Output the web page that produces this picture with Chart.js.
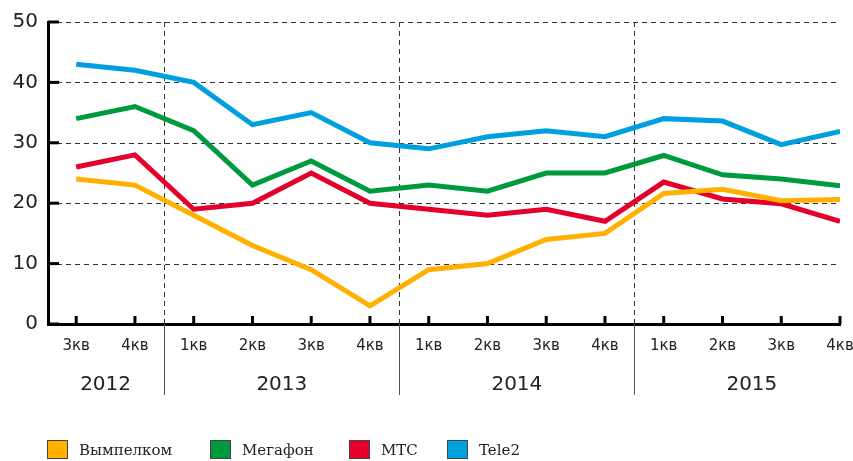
<!DOCTYPE html>
<html>
<head>
<meta charset="utf-8">
<script src="https://cdn.jsdelivr.net/npm/chart.js@4"></script>
<style>
  body { margin: 0; background: #fff; }
  #wrap { position: relative; width: 853px; height: 461px; }
  #legend { position: absolute; left: 0; top: 440px; width: 853px; height: 21px;
    font-family: "DejaVu Serif", serif; font-size: 15px; color: #222; }
  .item { position: absolute; top: 0; display: flex; align-items: center; }
  .box { width: 21px; height: 19px; border: 1px solid #444; margin-right: 11px; box-sizing: border-box; }
</style>
</head>
<body>
<div id="wrap">
  <canvas id="grafica" width="853" height="461"></canvas>
  <div id="legend"></div>
</div>
<script>
// Данные
const quarters = ['3кв', '4кв', '1кв', '2кв', '3кв', '4кв', '1кв', '2кв', '3кв', '4кв', '1кв', '2кв', '3кв', '4кв'];
const years = ['2012', '2013', '2014', '2015'];
const yearIdx = [[0, 1], [2, 5], [6, 9], [10, 13]];
const operators = ['Вымпелком', 'Мегафон', 'МТС', 'Tele2'];
const vympelcom = [24, 23, 18, 13, 9, 3, 9, 10, 14, 15, 21.6, 22.3, 20.4, 20.6];
const megafon = [34, 36, 32, 23, 27, 22, 23, 22, 25, 25, 27.9, 24.7, 24, 22.9];
const mts = [26, 28, 19, 20, 25, 20, 19, 18, 19, 17, 23.5, 20.7, 19.9, 17];
const tele2 = [43, 42, 40, 33, 35, 30, 29, 31, 32, 31, 34, 33.6, 29.7, 31.9];
const colores = ['#ffb000', '#009a3e', '#e4002b', '#00a0e0'];
const yTicks = [0, 10, 20, 30, 40, 50];

const series = [vympelcom, megafon, mts, tele2];

// Separadores de años, líneas de rejilla, marcas y etiquetas de año
const extras = {
  id: 'extras',
  beforeDatasetsDraw(chart) {
    const { ctx, chartArea, scales: { x, y } } = chart;
    ctx.save();
    ctx.lineWidth = 1;
    // rejilla horizontal discontinua
    ctx.strokeStyle = '#333';
    ctx.setLineDash([5, 4]);
    yTicks.forEach(v => {
      if (v === 0) return;
      const py = Math.round(y.getPixelForValue(v)) + 0.5;
      ctx.beginPath();
      ctx.moveTo(chartArea.left, py);
      ctx.lineTo(chartArea.right, py);
      ctx.stroke();
    });
    // separadores
    for (let k = 1; k < yearIdx.length; k++) {
      const px = Math.round(x.getPixelForValue(yearIdx[k][0] - 0.5)) + 0.5;
      ctx.strokeStyle = '#333';
      ctx.setLineDash([5, 4]);
      ctx.beginPath();
      ctx.moveTo(px, chartArea.top);
      ctx.lineTo(px, chartArea.bottom);
      ctx.stroke();
      ctx.setLineDash([]);
      ctx.strokeStyle = '#555';
      ctx.beginPath();
      ctx.moveTo(px, chartArea.bottom);
      ctx.lineTo(px, chartArea.bottom + 71);
      ctx.stroke();
    }
    ctx.restore();
  },
  afterDraw(chart) {
    const { ctx, chartArea, scales: { x, y } } = chart;
    ctx.save();
    ctx.strokeStyle = '#000';
    ctx.lineWidth = 3;
    // marcas del eje x (hacia adentro)
    quarters.forEach((q, i) => {
      const px = x.getPixelForValue(i);
      ctx.beginPath();
      ctx.moveTo(px, chartArea.bottom);
      ctx.lineTo(px, chartArea.bottom - 8);
      ctx.stroke();
    });
    // marcas del eje y
    yTicks.forEach(v => {
      const py = y.getPixelForValue(v);
      ctx.beginPath();
      ctx.moveTo(chartArea.left, py);
      ctx.lineTo(chartArea.left + 11, py);
      ctx.stroke();
    });
    // años
    ctx.fillStyle = '#222';
    ctx.font = '20px "DejaVu Sans"';
    ctx.textAlign = 'center';
    ctx.textBaseline = 'middle';
    years.forEach((yr, k) => {
      const c = (yearIdx[k][0] + yearIdx[k][1]) / 2;
      ctx.fillText(yr, x.getPixelForValue(c), chartArea.bottom + 61);
    });
    ctx.restore();
  }
};

const ctx = document.getElementById('grafica').getContext('2d');
new Chart(ctx, {
  type: 'line',
  data: {
    datasets: operators.map((name, s) => ({
      label: name,
      data: series[s].map((v, i) => ({ x: i, y: v })),
      borderColor: colores[s],
      backgroundColor: colores[s],
      borderWidth: 5,
      pointRadius: 0,
      tension: 0,
      borderJoinStyle: 'miter'
    }))
  },
  options: {
    responsive: false,
    animation: false,
    layout: { padding: { top: 22, right: 13, left: 0, bottom: 0 } },
    plugins: {
      legend: { display: false },
      tooltip: { enabled: false }
    },
    scales: {
      x: {
        type: 'linear',
        min: -0.48,
        max: 13,
        afterBuildTicks: s => { s.ticks = quarters.map((q, i) => ({ value: i })); },
        afterFit: s => { s.height = 137; s.paddingLeft = 0; s.paddingRight = 0; },
        grid: { display: false, drawTicks: false },
        border: { color: '#000', width: 3 },
        ticks: {
          autoSkip: false,
          maxRotation: 0,
          padding: 13,
          color: '#222',
          font: { family: 'DejaVu Sans', size: 15 },
          callback: v => quarters[v]
        }
      },
      y: {
        min: 0,
        max: 50,
        afterBuildTicks: s => { s.ticks = yTicks.map(v => ({ value: v })); },
        afterFit: s => { s.width = 48; },
        grid: { display: false, drawTicks: false },
        border: { color: '#000', width: 3 },
        ticks: {
          padding: 10,
          color: '#222',
          font: { family: 'DejaVu Sans', size: 20 }
        }
      }
    }
  },
  plugins: [extras]
});

// Leyenda
const legendX = [47, 210, 349, 447];
const legend = document.getElementById('legend');
operators.forEach((name, s) => {
  const it = document.createElement('div');
  it.className = 'item';
  it.style.left = legendX[s] + 'px';
  it.innerHTML = '<span class="box" style="background:' + colores[s] + '"></span><span>' + name + '</span>';
  legend.appendChild(it);
});
</script>
</body>
</html>
